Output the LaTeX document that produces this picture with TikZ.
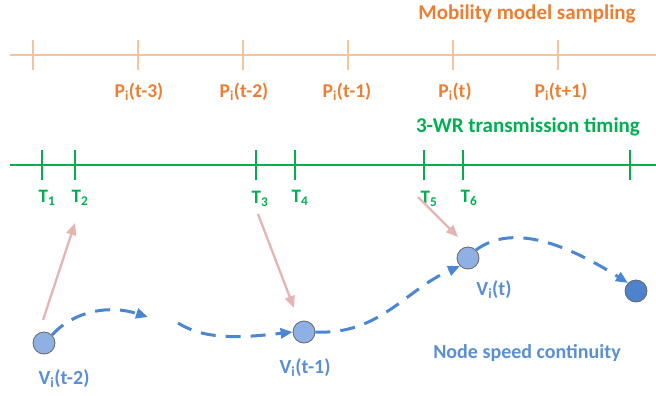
\documentclass[tikz,border=0pt]{standalone}
\usepackage{fontspec}
\setmainfont{Carlito}[BoldFont={Carlito Bold}]
\usetikzlibrary{arrows.meta}
\definecolor{oline}{HTML}{F7C29C}
\definecolor{otext}{HTML}{ED7D31}
\definecolor{gline}{HTML}{00B050}
\definecolor{bline}{HTML}{4A86D4}
\definecolor{btext}{HTML}{5A8ED6}
\definecolor{dotfill}{HTML}{8EB0E2}
\definecolor{dotdark}{HTML}{4F82CC}
\definecolor{pink}{HTML}{E6B4B2}
\newcommand{\sbi}{\textsubscript{i}}
\tikzset{
  otick/.style={draw=oline, line width=2.8pt},
  gtick/.style={draw=gline, line width=2.8pt},
  ttl/.style={font=\bfseries\fontsize{21}{24}\selectfont, inner sep=0pt},
  olab/.style={text=otext, font=\bfseries\fontsize{19.5}{22}\selectfont, inner sep=0pt},
  glab/.style={text=gline, font=\bfseries\fontsize{19}{21}\selectfont, inner sep=0pt},
  blab/.style={text=btext, font=\bfseries\fontsize{20}{23}\selectfont, inner sep=0pt},
  dot/.style={circle, draw=black!60, line width=0.8pt, fill=dotfill, minimum size=22pt, inner sep=0pt},
  bpath/.style={draw=bline, line width=3pt, dash pattern=on 15pt off 10pt, -{Triangle[length=12pt,width=10pt]}},
  parrow/.style={draw=pink, line width=2.3pt, -{Triangle[length=12pt,width=10pt]}}
}
\begin{document}
\begin{tikzpicture}[x=1pt,y=-1pt]
\useasboundingbox (0,0) rectangle (656,396);
% orange axis
\coordinate (oL) at (10,55);
\coordinate (oR) at (656,55);
\draw[otick] (oL) -- (oR);
\foreach \x in {33,138,243,348,453,558} \draw[otick] (\x,40) -- (\x,70);
\node[ttl, text=otext] (mms) at (527,14) {Mobility model sampling};
\node[olab] (p3) at (139,92) {P\sbi(t-3)};
\node[olab] (p2) at (244,92) {P\sbi(t-2)};
\node[olab] (p1) at (347,92) {P\sbi(t-1)};
\node[olab] (p0) at (455,92) {P\sbi(t)};
\node[olab] (pp) at (561,92) {P\sbi(t+1)};
% green axis
\coordinate (gL) at (10,165);
\coordinate (gR) at (656,165);
\draw[gtick] (gL) -- (gR);
\foreach \x in {42,75,256,295,424,463,630} \draw[gtick] (\x,150) -- (\x,180);
\node[ttl, text=gline] (wr) at (528,127) {3-WR transmission timing};
\node[glab] (t1) at (47,198) {T\textsubscript{1}};
\node[glab] (t2) at (80,198) {T\textsubscript{2}};
\node[glab] (t3) at (260,199) {T\textsubscript{3}};
\node[glab] (t4) at (300,198) {T\textsubscript{4}};
\node[glab] (t5) at (429,199) {T\textsubscript{5}};
\node[glab] (t6) at (469,198) {T\textsubscript{6}};
% dots
\node[dot] (v2) at (44,343) {};
\node[dot] (v1) at (304,332) {};
\node[dot] (v0) at (468,258) {};
\node[dot, fill=dotdark] (vn) at (636,291) {};
\node[blab] (lv2) at (64,379) {V\sbi(t-2)};
\node[blab] (lv1) at (305,368) {V\sbi(t-1)};
\node[blab] (lv0) at (494,290) {V\sbi(t)};
\node[blab] (nsc) at (527,353) {Node speed continuity};
% pink arrows
\coordinate (a1s) at (43,320);
\coordinate (a1e) at (75,223);
\coordinate (a2s) at (258,214);
\coordinate (a2e) at (294,308);
\coordinate (a3s) at (418,197);
\coordinate (a3e) at (458,237);
\draw[parrow] (a1s) -- (a1e);
\draw[parrow] (a2s) -- (a2e);
\draw[parrow] (a3s) -- (a3e);
% blue dashed path
\coordinate (m1) at (148,317);
\coordinate (m2) at (178,323);
\draw[bpath] (v2.north east) .. controls (75,310) and (110,305) .. (m1);
\draw[bpath] (m2) .. controls (205,340) and (240,338) .. (v1.west);
\draw[bpath] (v1.east) .. controls (380,335) and (405,290) .. (v0.south west);
\draw[bpath] (v0.north east) .. controls (510,225) and (560,240) .. (vn.north west);
\end{tikzpicture}
\end{document}
